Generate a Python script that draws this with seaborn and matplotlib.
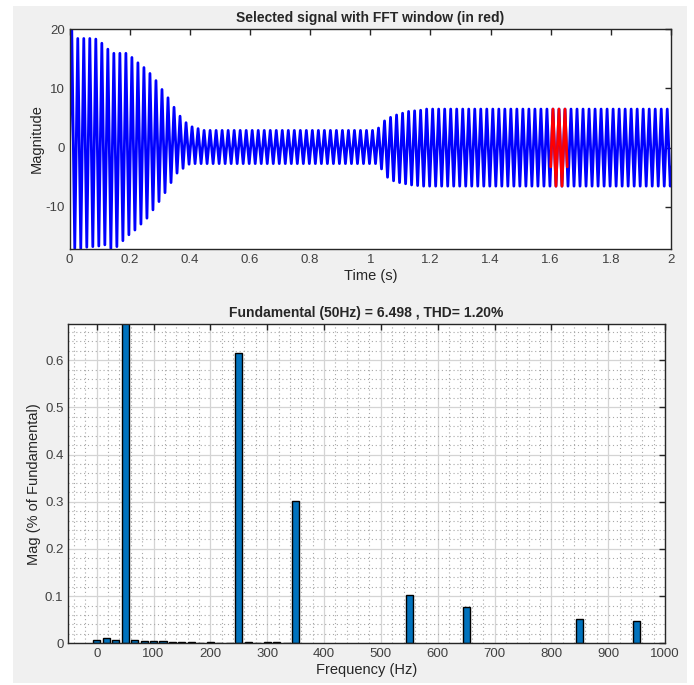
import matplotlib
matplotlib.use("Agg")
import matplotlib.pyplot as plt
from matplotlib.patches import Rectangle
from matplotlib.ticker import MultipleLocator
import seaborn as sns
import pandas as pd
import numpy as np

# ==================== data ====================
# top plot: one peak and one trough per 50 Hz cycle (100 cycles over 0-2 s)
peak_vals = ([20.0, 18.4, 18.4, 18.4, 18.3, 17.6, 16.6, 15.9, 15.9, 15.9,
              15.2, 14.3, 13.5, 12.5, 11.3, 9.8, 8.4, 6.8, 5.3, 4.2,
              3.5, 3.2] + [2.9] * 29
             + [3.3, 4.5, 5.1, 5.5, 5.8, 6.1, 6.2, 6.3] + [6.5] * 41)
trough_vals = ([-17.0, -17.0, -16.8, -16.7, -16.6, -16.4, -17.0, -16.7, -15.7, -14.7,
                -13.9, -12.9, -11.9, -10.5, -9.1, -7.6, -5.9, -4.3, -3.5, -2.8]
               + [-2.7] * 31
               + [-3.6, -5.0, -5.6, -5.9, -6.1, -6.3, -6.4] + [-6.5] * 42)
sig_start = 0.0      # value at t = 0
sig_end = -3.3       # value at t = 2 s
first_peak_t = 0.0075
cycle_s = 0.02
fft_window = (1.60, 1.655)

# bottom plot: FFT bins (Hz) and magnitudes (% of fundamental)
bar_hz = [0, 16.7, 33.3, 50, 66.7, 83.3, 100, 116.7, 133.3, 150, 166.7, 183.3,
          200, 216.7, 233.3, 250, 266.7, 283.3, 300, 316.7, 333.3, 350,
          550, 650, 850, 950]
bar_mag = [0.0064, 0.0106, 0.0064, 100.0, 0.0064, 0.0042, 0.0056, 0.0042, 0.002, 0.002,
           0.002, 0.0007, 0.003, 0.0005, 0.0005, 0.6157, 0.002, 0.0005, 0.003, 0.002,
           0.0005, 0.301, 0.1017, 0.0776, 0.0508, 0.0466]

title_top = "Selected signal with FFT window (in red)"
title_bot = "Fundamental (50Hz) = 6.498 , THD= 1.20%"

# ==================== build the line ====================
n = len(peak_vals)
t_peak = first_peak_t + cycle_s * np.arange(n)
t_trough = t_peak + cycle_s / 2
t = np.concatenate([[0.0], np.column_stack([t_peak, t_trough]).ravel(), [2.0]])
y = np.concatenate([[sig_start], np.column_stack([peak_vals, trough_vals]).ravel(), [sig_end]])

inside = (t > fft_window[0]) & (t < fft_window[1])
t_red = np.concatenate([[fft_window[0]], t[inside], [fft_window[1]]])
y_red = np.concatenate([[np.interp(fft_window[0], t, y)], y[inside], [np.interp(fft_window[1], t, y)]])

df_bar = pd.DataFrame({"Hz": bar_hz, "Mag": bar_mag})

# ==================== style ====================
sns.set_theme(style="white")
plt.rcParams["font.family"] = ["Liberation Sans", "DejaVu Sans"]
ink = "#262626"
plt.rcParams.update({
    "axes.edgecolor": ink, "axes.linewidth": 1.0, "text.color": ink,
    "axes.labelcolor": ink, "xtick.color": ink, "ytick.color": ink,
    "xtick.labelcolor": "#404040", "ytick.labelcolor": "#404040",
    "xtick.labelsize": 9.5, "ytick.labelsize": 9.5, "axes.labelsize": 10.5,
    "xtick.direction": "in", "ytick.direction": "in",
    "xtick.major.size": 4, "ytick.major.size": 4,
    "xtick.major.width": 1, "ytick.major.width": 1,
    "xtick.top": True, "ytick.right": True,
    "axes.unicode_minus": False,
})

fig = plt.figure(figsize=(6.94, 6.85), dpi=100, facecolor="white")
fig.patches.append(Rectangle((13 / 694, 2 / 685), 674 / 694, 677 / 685,
                             transform=fig.transFigure, facecolor="#f0f0f0",
                             edgecolor="none", zorder=-10))

ax1 = fig.add_axes([69.5 / 694, (685 - 249) / 685, 601.5 / 694, 220 / 685])
ax2 = fig.add_axes([68.3 / 694, (685 - 643.3) / 685, 596.7 / 694, 319 / 685])

# --- top: signal ---
sns.lineplot(x=t, y=y, ax=ax1, color="#0000ff", linewidth=2.0, sort=False, estimator=None)
sns.lineplot(x=t_red, y=y_red, ax=ax1, color="#ff0000", linewidth=2.0, sort=False, estimator=None)
ax1.set_xlim(0, 2)
ax1.set_ylim(-17.1, 20)
ax1.set_xticks(np.arange(0, 2.01, 0.2))
ax1.set_xticklabels(["0", "0.2", "0.4", "0.6", "0.8", "1", "1.2", "1.4", "1.6", "1.8", "2"])
ax1.set_yticks([-10, 0, 10, 20])
ax1.set_xlabel("Time (s)", labelpad=2)
ax1.set_ylabel("Magnitude", labelpad=1)
ax1.set_title(title_top, fontsize=10, fontweight="bold", pad=5)

# --- bottom: harmonics ---
sns.barplot(data=df_bar, x="Hz", y="Mag", ax=ax2, native_scale=True, width=0.75,
            color="#0072bd", saturation=1, edgecolor="black", linewidth=1, errorbar=None)
ax2.set_xlim(-50, 1000)
ax2.set_ylim(0, 0.676)
ax2.set_xticks(np.arange(0, 1001, 100))
ax2.set_yticks([0, 0.1, 0.2, 0.3, 0.4, 0.5, 0.6])
ax2.set_yticklabels(["0", "0.1", "0.2", "0.3", "0.4", "0.5", "0.6"])
ax2.xaxis.set_minor_locator(MultipleLocator(20))
ax2.yaxis.set_minor_locator(MultipleLocator(0.02))
ax2.tick_params(which="minor", length=0)
ax2.set_axisbelow(True)
ax2.grid(True, which="major", color="#d4d4d4", linewidth=0.9)
ax2.grid(True, which="minor", color="#a8a8a8", linestyle=(0, (1, 2.5)), linewidth=0.8)
ax2.set_xlabel("Frequency (Hz)", labelpad=2)
ax2.set_ylabel("Mag (% of Fundamental)", labelpad=3)
ax2.set_title(title_bot, fontsize=10, fontweight="bold", pad=5)

for ax in (ax1, ax2):
    ax.set_facecolor("white")
    for s in ax.spines.values():
        s.set_visible(True)
        s.set_zorder(5)

fig.savefig("out.png", dpi=100)
